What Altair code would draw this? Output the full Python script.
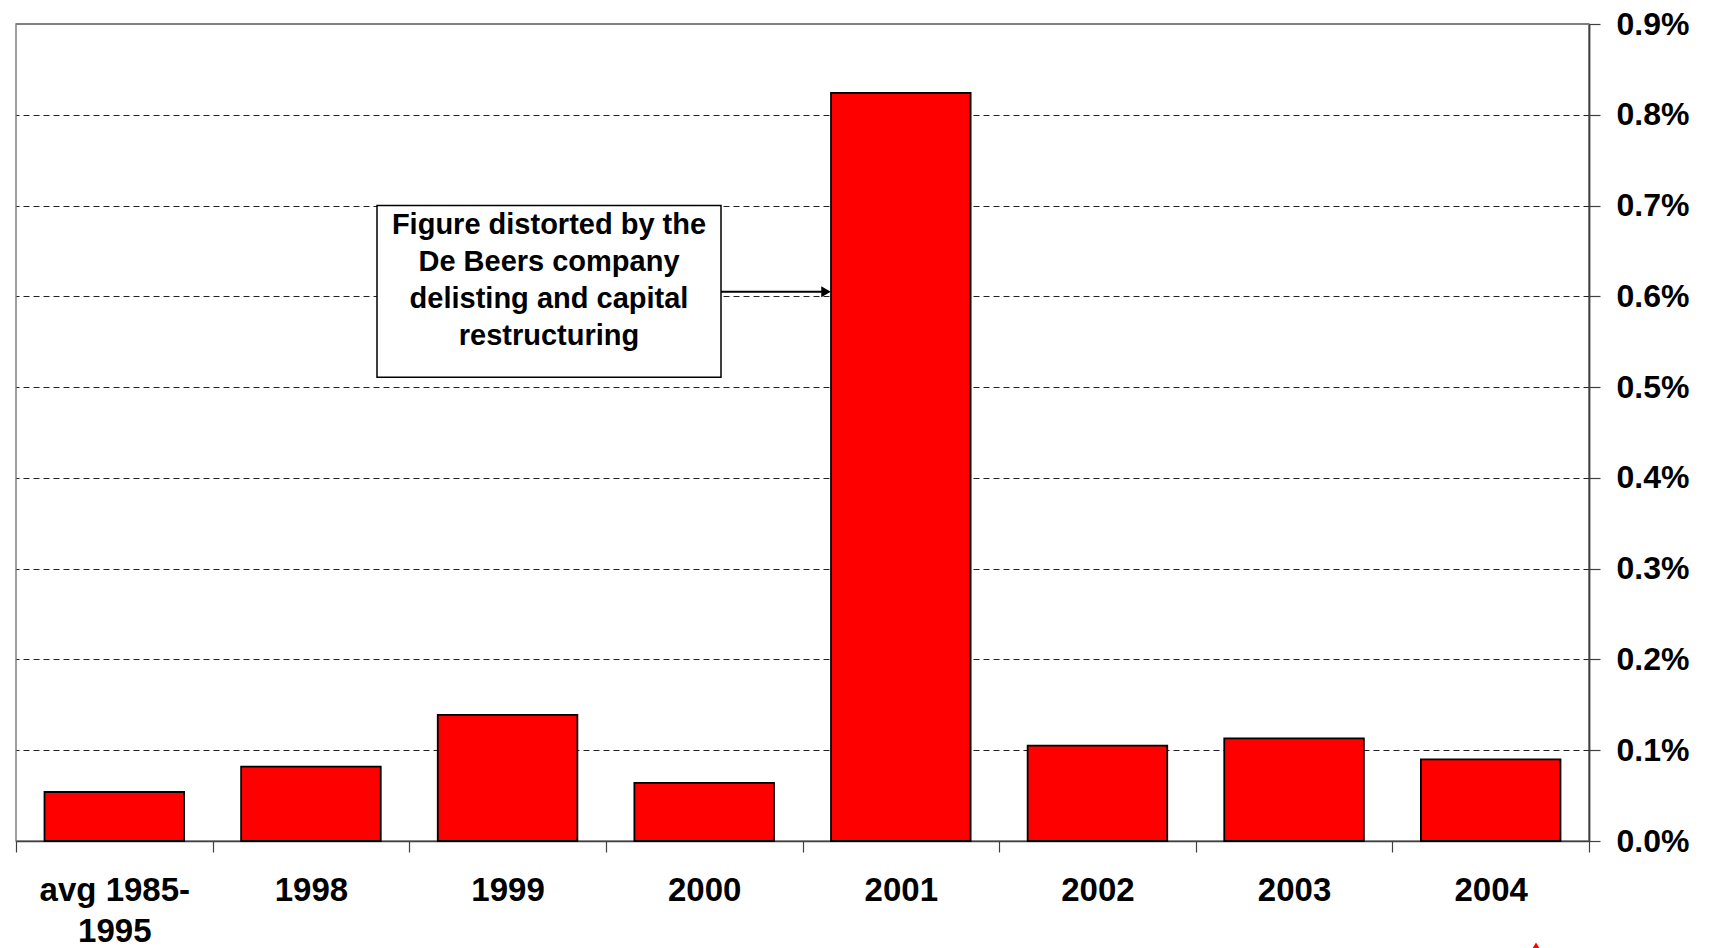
import altair as alt
import pandas as pd

# Share of market capitalisation, by period (fractions: 0.0054 = 0.54%)
periods = ["avg 1985-1995", "1998", "1999", "2000", "2001", "2002", "2003", "2004"]
shares = [0.00054, 0.00082, 0.00139, 0.00064, 0.00824, 0.00105, 0.00113, 0.00090]

note_lines = ["Figure distorted by the", "De Beers company", "delisting and capital", "restructuring"]
note_top = 0.0070
note_bottom = 0.00511
arrow_level = 0.00605
y_max = 0.009

FONT = "Liberation Sans"
W, H = 1573, 817

df = pd.DataFrame({"period": periods, "share": shares})

# bands fill the axis; bars take 71% of each band so the ticks sit between bars
x_scale = alt.Scale(domain=periods, paddingInner=0, paddingOuter=0)
y_scale = alt.Scale(domain=[0, y_max], nice=False)

bars = alt.Chart(df).mark_bar(
    color="#FF0000", stroke="#000000", strokeWidth=1.8,
    width=alt.RelativeBandSize(0.71),
).encode(
    x=alt.X(
        "period:N", scale=x_scale, sort=periods, title=None,
        axis=alt.Axis(
            labelAngle=0, labelFont=FONT, labelFontSize=33, labelFontWeight="bold",
            labelColor="#000000", labelPadding=22, labelLineHeight=41,
            labelExpr="datum.label == 'avg 1985-1995' ? ['avg 1985-', '1995'] : datum.label",
            tickBand="extent", tickSize=11, tickColor="#404040", tickWidth=1.2,
            domainColor="#404040", domainWidth=1.5, grid=False,
        ),
    ),
    y=alt.Y(
        "share:Q", scale=y_scale, title=None,
        axis=alt.Axis(
            orient="right", values=[i / 1000 for i in range(10)], format=".1%",
            labelFont=FONT, labelFontSize=32, labelFontWeight="bold", labelColor="#000000",
            labelPadding=16, tickSize=11, tickColor="#404040", tickWidth=1.2,
            domainColor="#404040", domainWidth=1.8,
            grid=True, gridColor="#222222", gridDash=[6, 4], gridWidth=1,
        ),
    ),
)

# solid frame line along the top of the plot
top_df = pd.DataFrame({"level": [y_max]})
top_line = alt.Chart(top_df).mark_rule(color="#808080", strokeWidth=1.8).encode(
    y=alt.Y("level:Q", scale=y_scale)
)

note_df = pd.DataFrame({"top": [note_top], "bottom": [note_bottom]})

note_box = alt.Chart(note_df).mark_rect(
    fill="#FFFFFF", stroke="#000000", strokeWidth=1.5
).encode(
    x=alt.value(361), x2=alt.value(705),
    y=alt.Y("top:Q", scale=y_scale), y2="bottom:Q",
)

note_text = alt.Chart(note_df).mark_text(
    text=note_lines, font=FONT, fontSize=29, fontWeight="bold", color="#000000",
    align="center", baseline="top", lineHeight=37, dy=5,
).encode(
    x=alt.value(533),
    y=alt.Y("top:Q", scale=y_scale),
)

arrow_df = pd.DataFrame({"level": [arrow_level]})

arrow_line = alt.Chart(arrow_df).mark_rule(color="#000000", strokeWidth=2).encode(
    x=alt.value(705), x2=alt.value(806),
    y=alt.Y("level:Q", scale=y_scale),
)

arrow_head = alt.Chart(arrow_df).mark_point(
    shape="triangle-right", filled=True, color="#000000", size=120, opacity=1
).encode(
    x=alt.value(810),
    y=alt.Y("level:Q", scale=y_scale),
)

marker = alt.Chart(arrow_df).mark_point(
    shape="triangle-up", filled=True, color="#FF0000", size=70, opacity=1
).encode(
    x=alt.value(1520), y=alt.value(922),
)

chart = alt.layer(
    bars, top_line, note_box, note_text, arrow_line, arrow_head, marker
).properties(
    width=W, height=H,
    padding={"left": 15, "top": 8, "right": 5, "bottom": 5},
    background="#FFFFFF",
).configure_view(
    stroke="#808080", strokeWidth=1.5
)

chart.save("out.html", embed_options={"renderer": "svg", "actions": False})
